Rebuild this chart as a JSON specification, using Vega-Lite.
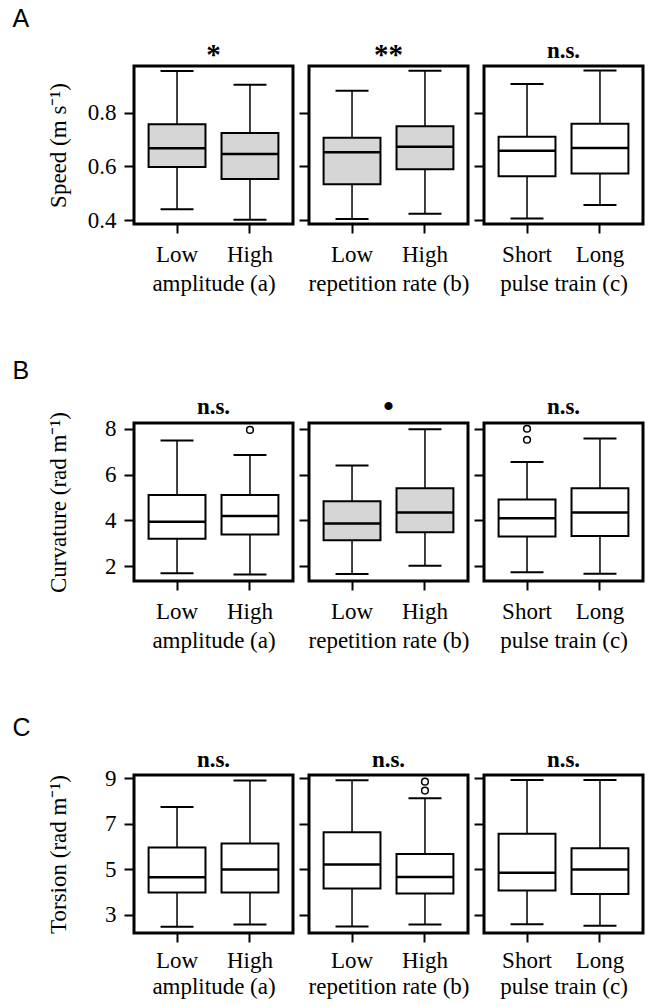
{
  "$schema": "https://vega.github.io/schema/vega-lite/v6.json",
  "background": "white",
  "padding": {"left": 12, "top": 6, "right": 4, "bottom": 2},
  "data": {"values": [
    {"row": "A", "panel": 1, "level": "Low", "kind": "box", "lo": 0.441, "q1": 0.598, "med": 0.667, "q3": 0.757, "hi": 0.954, "shaded": "yes"},
    {"row": "A", "panel": 1, "level": "High", "kind": "box", "lo": 0.402, "q1": 0.553, "med": 0.646, "q3": 0.724, "hi": 0.903, "shaded": "yes"},
    {"row": "A", "panel": 2, "level": "Low", "kind": "box", "lo": 0.405, "q1": 0.534, "med": 0.653, "q3": 0.706, "hi": 0.881, "shaded": "yes"},
    {"row": "A", "panel": 2, "level": "High", "kind": "box", "lo": 0.424, "q1": 0.589, "med": 0.673, "q3": 0.749, "hi": 0.955, "shaded": "yes"},
    {"row": "A", "panel": 3, "level": "Short", "kind": "box", "lo": 0.406, "q1": 0.563, "med": 0.658, "q3": 0.710, "hi": 0.906, "shaded": "no"},
    {"row": "A", "panel": 3, "level": "Long", "kind": "box", "lo": 0.457, "q1": 0.574, "med": 0.668, "q3": 0.758, "hi": 0.956, "shaded": "no"},
    {"row": "B", "panel": 1, "level": "Low", "kind": "box", "lo": 1.70, "q1": 3.20, "med": 3.94, "q3": 5.11, "hi": 7.49, "shaded": "no"},
    {"row": "B", "panel": 1, "level": "High", "kind": "box", "lo": 1.64, "q1": 3.39, "med": 4.19, "q3": 5.11, "hi": 6.85, "shaded": "no"},
    {"row": "B", "panel": 1, "level": "High", "kind": "out", "value": 7.95},
    {"row": "B", "panel": 2, "level": "Low", "kind": "box", "lo": 1.67, "q1": 3.14, "med": 3.87, "q3": 4.84, "hi": 6.40, "shaded": "yes"},
    {"row": "B", "panel": 2, "level": "High", "kind": "box", "lo": 2.03, "q1": 3.49, "med": 4.35, "q3": 5.40, "hi": 7.98, "shaded": "yes"},
    {"row": "B", "panel": 3, "level": "Short", "kind": "box", "lo": 1.74, "q1": 3.30, "med": 4.10, "q3": 4.91, "hi": 6.55, "shaded": "no"},
    {"row": "B", "panel": 3, "level": "Short", "kind": "out", "value": 8.0},
    {"row": "B", "panel": 3, "level": "Short", "kind": "out", "value": 7.52},
    {"row": "B", "panel": 3, "level": "Long", "kind": "box", "lo": 1.68, "q1": 3.32, "med": 4.35, "q3": 5.40, "hi": 7.57, "shaded": "no"},
    {"row": "C", "panel": 1, "level": "Low", "kind": "box", "lo": 2.46, "q1": 3.97, "med": 4.64, "q3": 5.95, "hi": 7.74, "shaded": "no"},
    {"row": "C", "panel": 1, "level": "High", "kind": "box", "lo": 2.56, "q1": 3.97, "med": 4.99, "q3": 6.13, "hi": 8.90, "shaded": "no"},
    {"row": "C", "panel": 2, "level": "Low", "kind": "box", "lo": 2.48, "q1": 4.15, "med": 5.20, "q3": 6.63, "hi": 8.91, "shaded": "no"},
    {"row": "C", "panel": 2, "level": "High", "kind": "box", "lo": 2.56, "q1": 3.93, "med": 4.66, "q3": 5.67, "hi": 8.12, "shaded": "no"},
    {"row": "C", "panel": 2, "level": "High", "kind": "out", "value": 8.85},
    {"row": "C", "panel": 2, "level": "High", "kind": "out", "value": 8.46},
    {"row": "C", "panel": 3, "level": "Short", "kind": "box", "lo": 2.58, "q1": 4.06, "med": 4.84, "q3": 6.56, "hi": 8.93, "shaded": "no"},
    {"row": "C", "panel": 3, "level": "Long", "kind": "box", "lo": 2.51, "q1": 3.91, "med": 4.98, "q3": 5.92, "hi": 8.93, "shaded": "no"}
  ]},
  "spacing": 61,
  "vconcat": [
    {
      "title": {"text": "A", "anchor": "start", "font": "Liberation Sans", "fontSize": 25, "fontWeight": "normal", "dx": -33, "offset": 7},
      "bounds": "flush",
      "spacing": 16,
      "hconcat": [
        {
          "width": 159, "height": 158,
          "title": {"text": "*", "dy": 7, "fontSize": 29},
          "transform": [{"filter": "datum.row=='A' && datum.panel==1"}],
          "encoding": {"x": {"field": "level", "type": "nominal", "scale": {"domain": ["Low", "High"], "paddingInner": 0.22, "paddingOuter": 0.2}, "axis": {"title": "amplitude (a)"}}},
          "layer": [
            {"transform": [{"filter": "datum.kind=='box'"}], "mark": {"type": "rule", "color": "black", "strokeWidth": 1.5}, "encoding": {"y": {"field": "lo", "type": "quantitative", "scale": {"domain": [0.386, 0.973]}, "axis": {"values": [0.4, 0.5, 0.6, 0.7, 0.8, 0.9], "format": ".1f", "labelExpr": "indexof(['0.4','0.6','0.8'], datum.label) >= 0 ? datum.label : ''", "title": "Speed (m s⁻¹)", "titleX": -76, "titleBaseline": "middle"}}, "y2": {"field": "hi"}}},
            {"transform": [{"filter": "datum.kind=='box'"}], "mark": {"type": "tick", "color": "black", "opacity": 1, "size": 33, "thickness": 2}, "encoding": {"y": {"field": "lo", "type": "quantitative", "scale": {"domain": [0.386, 0.973]}}}},
            {"transform": [{"filter": "datum.kind=='box'"}], "mark": {"type": "tick", "color": "black", "opacity": 1, "size": 33, "thickness": 2}, "encoding": {"y": {"field": "hi", "type": "quantitative", "scale": {"domain": [0.386, 0.973]}}}},
            {"transform": [{"filter": "datum.kind=='box'"}], "mark": {"type": "bar", "stroke": "black", "strokeWidth": 2, "opacity": 1}, "encoding": {"y": {"field": "q1", "type": "quantitative", "scale": {"domain": [0.386, 0.973]}}, "y2": {"field": "q3"}, "fill": {"field": "shaded", "type": "nominal", "scale": {"domain": ["yes", "no"], "range": ["#d6d6d6", "#ffffff"]}, "legend": null}}},
            {"transform": [{"filter": "datum.kind=='box'"}], "mark": {"type": "tick", "color": "black", "opacity": 1, "size": 57, "thickness": 2.5}, "encoding": {"y": {"field": "med", "type": "quantitative", "scale": {"domain": [0.386, 0.973]}}}}
          ]
        },
        {
          "width": 159, "height": 158,
          "title": {"text": "**", "dy": 7, "fontSize": 29},
          "transform": [{"filter": "datum.row=='A' && datum.panel==2"}],
          "encoding": {"x": {"field": "level", "type": "nominal", "scale": {"domain": ["Low", "High"], "paddingInner": 0.22, "paddingOuter": 0.2}, "axis": {"title": "repetition rate (b)"}}},
          "layer": [
            {"transform": [{"filter": "datum.kind=='box'"}], "mark": {"type": "rule", "color": "black", "strokeWidth": 1.5}, "encoding": {"y": {"field": "lo", "type": "quantitative", "scale": {"domain": [0.386, 0.973]}, "axis": {"values": [0.4, 0.5, 0.6, 0.7, 0.8, 0.9], "labels": false, "title": null}}, "y2": {"field": "hi"}}},
            {"transform": [{"filter": "datum.kind=='box'"}], "mark": {"type": "tick", "color": "black", "opacity": 1, "size": 33, "thickness": 2}, "encoding": {"y": {"field": "lo", "type": "quantitative", "scale": {"domain": [0.386, 0.973]}}}},
            {"transform": [{"filter": "datum.kind=='box'"}], "mark": {"type": "tick", "color": "black", "opacity": 1, "size": 33, "thickness": 2}, "encoding": {"y": {"field": "hi", "type": "quantitative", "scale": {"domain": [0.386, 0.973]}}}},
            {"transform": [{"filter": "datum.kind=='box'"}], "mark": {"type": "bar", "stroke": "black", "strokeWidth": 2, "opacity": 1}, "encoding": {"y": {"field": "q1", "type": "quantitative", "scale": {"domain": [0.386, 0.973]}}, "y2": {"field": "q3"}, "fill": {"field": "shaded", "type": "nominal", "scale": {"domain": ["yes", "no"], "range": ["#d6d6d6", "#ffffff"]}, "legend": null}}},
            {"transform": [{"filter": "datum.kind=='box'"}], "mark": {"type": "tick", "color": "black", "opacity": 1, "size": 57, "thickness": 2.5}, "encoding": {"y": {"field": "med", "type": "quantitative", "scale": {"domain": [0.386, 0.973]}}}}
          ]
        },
        {
          "width": 159, "height": 158,
          "title": {"text": "n.s."},
          "transform": [{"filter": "datum.row=='A' && datum.panel==3"}],
          "encoding": {"x": {"field": "level", "type": "nominal", "scale": {"domain": ["Short", "Long"], "paddingInner": 0.22, "paddingOuter": 0.2}, "axis": {"title": "pulse train (c)"}}},
          "layer": [
            {"transform": [{"filter": "datum.kind=='box'"}], "mark": {"type": "rule", "color": "black", "strokeWidth": 1.5}, "encoding": {"y": {"field": "lo", "type": "quantitative", "scale": {"domain": [0.386, 0.973]}, "axis": {"values": [0.4, 0.5, 0.6, 0.7, 0.8, 0.9], "labels": false, "title": null}}, "y2": {"field": "hi"}}},
            {"transform": [{"filter": "datum.kind=='box'"}], "mark": {"type": "tick", "color": "black", "opacity": 1, "size": 33, "thickness": 2}, "encoding": {"y": {"field": "lo", "type": "quantitative", "scale": {"domain": [0.386, 0.973]}}}},
            {"transform": [{"filter": "datum.kind=='box'"}], "mark": {"type": "tick", "color": "black", "opacity": 1, "size": 33, "thickness": 2}, "encoding": {"y": {"field": "hi", "type": "quantitative", "scale": {"domain": [0.386, 0.973]}}}},
            {"transform": [{"filter": "datum.kind=='box'"}], "mark": {"type": "bar", "stroke": "black", "strokeWidth": 2, "opacity": 1}, "encoding": {"y": {"field": "q1", "type": "quantitative", "scale": {"domain": [0.386, 0.973]}}, "y2": {"field": "q3"}, "fill": {"field": "shaded", "type": "nominal", "scale": {"domain": ["yes", "no"], "range": ["#d6d6d6", "#ffffff"]}, "legend": null}}},
            {"transform": [{"filter": "datum.kind=='box'"}], "mark": {"type": "tick", "color": "black", "opacity": 1, "size": 57, "thickness": 2.5}, "encoding": {"y": {"field": "med", "type": "quantitative", "scale": {"domain": [0.386, 0.973]}}}}
          ]
        }
      ]
    },
    {
      "title": {"text": "B", "anchor": "start", "font": "Liberation Sans", "fontSize": 25, "fontWeight": "normal", "dx": -33, "offset": 7},
      "bounds": "flush",
      "spacing": 16,
      "hconcat": [
        {
          "width": 159, "height": 158,
          "title": {"text": "n.s.", "dy": 10},
          "transform": [{"filter": "datum.row=='B' && datum.panel==1"}],
          "encoding": {"x": {"field": "level", "type": "nominal", "scale": {"domain": ["Low", "High"], "paddingInner": 0.22, "paddingOuter": 0.2}, "axis": {"title": "amplitude (a)"}}},
          "layer": [
            {"transform": [{"filter": "datum.kind=='box'"}], "mark": {"type": "rule", "color": "black", "strokeWidth": 1.5}, "encoding": {"y": {"field": "lo", "type": "quantitative", "scale": {"domain": [1.36, 8.25]}, "axis": {"values": [2, 3, 4, 5, 6, 7, 8], "labelExpr": "datum.value % 2 == 0 ? datum.label : ''", "title": "Curvature (rad m⁻¹)", "titleX": -76, "titleBaseline": "middle"}}, "y2": {"field": "hi"}}},
            {"transform": [{"filter": "datum.kind=='box'"}], "mark": {"type": "tick", "color": "black", "opacity": 1, "size": 33, "thickness": 2}, "encoding": {"y": {"field": "lo", "type": "quantitative", "scale": {"domain": [1.36, 8.25]}}}},
            {"transform": [{"filter": "datum.kind=='box'"}], "mark": {"type": "tick", "color": "black", "opacity": 1, "size": 33, "thickness": 2}, "encoding": {"y": {"field": "hi", "type": "quantitative", "scale": {"domain": [1.36, 8.25]}}}},
            {"transform": [{"filter": "datum.kind=='box'"}], "mark": {"type": "bar", "stroke": "black", "strokeWidth": 2, "opacity": 1}, "encoding": {"y": {"field": "q1", "type": "quantitative", "scale": {"domain": [1.36, 8.25]}}, "y2": {"field": "q3"}, "fill": {"field": "shaded", "type": "nominal", "scale": {"domain": ["yes", "no"], "range": ["#d6d6d6", "#ffffff"]}, "legend": null}}},
            {"transform": [{"filter": "datum.kind=='box'"}], "mark": {"type": "tick", "color": "black", "opacity": 1, "size": 57, "thickness": 2.5}, "encoding": {"y": {"field": "med", "type": "quantitative", "scale": {"domain": [1.36, 8.25]}}}},
            {"transform": [{"filter": "datum.kind=='out'"}], "mark": {"type": "point", "shape": "circle", "filled": false, "color": "black", "strokeWidth": 1.5, "size": 45, "opacity": 1}, "encoding": {"y": {"field": "value", "type": "quantitative", "scale": {"domain": [1.36, 8.25]}}}}
          ]
        },
        {
          "width": 159, "height": 158,
          "title": {"text": "•", "fontSize": 30, "dy": 2},
          "transform": [{"filter": "datum.row=='B' && datum.panel==2"}],
          "encoding": {"x": {"field": "level", "type": "nominal", "scale": {"domain": ["Low", "High"], "paddingInner": 0.22, "paddingOuter": 0.2}, "axis": {"title": "repetition rate (b)"}}},
          "layer": [
            {"transform": [{"filter": "datum.kind=='box'"}], "mark": {"type": "rule", "color": "black", "strokeWidth": 1.5}, "encoding": {"y": {"field": "lo", "type": "quantitative", "scale": {"domain": [1.36, 8.25]}, "axis": {"values": [2, 3, 4, 5, 6, 7, 8], "labels": false, "title": null}}, "y2": {"field": "hi"}}},
            {"transform": [{"filter": "datum.kind=='box'"}], "mark": {"type": "tick", "color": "black", "opacity": 1, "size": 33, "thickness": 2}, "encoding": {"y": {"field": "lo", "type": "quantitative", "scale": {"domain": [1.36, 8.25]}}}},
            {"transform": [{"filter": "datum.kind=='box'"}], "mark": {"type": "tick", "color": "black", "opacity": 1, "size": 33, "thickness": 2}, "encoding": {"y": {"field": "hi", "type": "quantitative", "scale": {"domain": [1.36, 8.25]}}}},
            {"transform": [{"filter": "datum.kind=='box'"}], "mark": {"type": "bar", "stroke": "black", "strokeWidth": 2, "opacity": 1}, "encoding": {"y": {"field": "q1", "type": "quantitative", "scale": {"domain": [1.36, 8.25]}}, "y2": {"field": "q3"}, "fill": {"field": "shaded", "type": "nominal", "scale": {"domain": ["yes", "no"], "range": ["#d6d6d6", "#ffffff"]}, "legend": null}}},
            {"transform": [{"filter": "datum.kind=='box'"}], "mark": {"type": "tick", "color": "black", "opacity": 1, "size": 57, "thickness": 2.5}, "encoding": {"y": {"field": "med", "type": "quantitative", "scale": {"domain": [1.36, 8.25]}}}}
          ]
        },
        {
          "width": 159, "height": 158,
          "title": {"text": "n.s."},
          "transform": [{"filter": "datum.row=='B' && datum.panel==3"}],
          "encoding": {"x": {"field": "level", "type": "nominal", "scale": {"domain": ["Short", "Long"], "paddingInner": 0.22, "paddingOuter": 0.2}, "axis": {"title": "pulse train (c)"}}},
          "layer": [
            {"transform": [{"filter": "datum.kind=='box'"}], "mark": {"type": "rule", "color": "black", "strokeWidth": 1.5}, "encoding": {"y": {"field": "lo", "type": "quantitative", "scale": {"domain": [1.36, 8.25]}, "axis": {"values": [2, 3, 4, 5, 6, 7, 8], "labels": false, "title": null}}, "y2": {"field": "hi"}}},
            {"transform": [{"filter": "datum.kind=='box'"}], "mark": {"type": "tick", "color": "black", "opacity": 1, "size": 33, "thickness": 2}, "encoding": {"y": {"field": "lo", "type": "quantitative", "scale": {"domain": [1.36, 8.25]}}}},
            {"transform": [{"filter": "datum.kind=='box'"}], "mark": {"type": "tick", "color": "black", "opacity": 1, "size": 33, "thickness": 2}, "encoding": {"y": {"field": "hi", "type": "quantitative", "scale": {"domain": [1.36, 8.25]}}}},
            {"transform": [{"filter": "datum.kind=='box'"}], "mark": {"type": "bar", "stroke": "black", "strokeWidth": 2, "opacity": 1}, "encoding": {"y": {"field": "q1", "type": "quantitative", "scale": {"domain": [1.36, 8.25]}}, "y2": {"field": "q3"}, "fill": {"field": "shaded", "type": "nominal", "scale": {"domain": ["yes", "no"], "range": ["#d6d6d6", "#ffffff"]}, "legend": null}}},
            {"transform": [{"filter": "datum.kind=='box'"}], "mark": {"type": "tick", "color": "black", "opacity": 1, "size": 57, "thickness": 2.5}, "encoding": {"y": {"field": "med", "type": "quantitative", "scale": {"domain": [1.36, 8.25]}}}},
            {"transform": [{"filter": "datum.kind=='out'"}], "mark": {"type": "point", "shape": "circle", "filled": false, "color": "black", "strokeWidth": 1.5, "size": 45, "opacity": 1}, "encoding": {"y": {"field": "value", "type": "quantitative", "scale": {"domain": [1.36, 8.25]}}}}
          ]
        }
      ]
    },
    {
      "title": {"text": "C", "anchor": "start", "font": "Liberation Sans", "fontSize": 25, "fontWeight": "normal", "dx": -33, "offset": 7},
      "bounds": "flush",
      "spacing": 16,
      "hconcat": [
        {
          "width": 159, "height": 158,
          "title": {"text": "n.s.", "dy": 8},
          "transform": [{"filter": "datum.row=='C' && datum.panel==1"}],
          "encoding": {"x": {"field": "level", "type": "nominal", "scale": {"domain": ["Low", "High"], "paddingInner": 0.22, "paddingOuter": 0.2}, "axis": {"title": "amplitude (a)", "labelPadding": 7, "titlePadding": 3}}},
          "layer": [
            {"transform": [{"filter": "datum.kind=='box'"}], "mark": {"type": "rule", "color": "black", "strokeWidth": 1.5}, "encoding": {"y": {"field": "lo", "type": "quantitative", "scale": {"domain": [2.19, 9.145]}, "axis": {"values": [3, 4, 5, 6, 7, 8, 9], "labelExpr": "datum.value % 2 == 1 ? datum.label : ''", "title": "Torsion (rad m⁻¹)", "titleX": -76, "titleBaseline": "middle"}}, "y2": {"field": "hi"}}},
            {"transform": [{"filter": "datum.kind=='box'"}], "mark": {"type": "tick", "color": "black", "opacity": 1, "size": 33, "thickness": 2}, "encoding": {"y": {"field": "lo", "type": "quantitative", "scale": {"domain": [2.19, 9.145]}}}},
            {"transform": [{"filter": "datum.kind=='box'"}], "mark": {"type": "tick", "color": "black", "opacity": 1, "size": 33, "thickness": 2}, "encoding": {"y": {"field": "hi", "type": "quantitative", "scale": {"domain": [2.19, 9.145]}}}},
            {"transform": [{"filter": "datum.kind=='box'"}], "mark": {"type": "bar", "stroke": "black", "strokeWidth": 2, "opacity": 1}, "encoding": {"y": {"field": "q1", "type": "quantitative", "scale": {"domain": [2.19, 9.145]}}, "y2": {"field": "q3"}, "fill": {"field": "shaded", "type": "nominal", "scale": {"domain": ["yes", "no"], "range": ["#d6d6d6", "#ffffff"]}, "legend": null}}},
            {"transform": [{"filter": "datum.kind=='box'"}], "mark": {"type": "tick", "color": "black", "opacity": 1, "size": 57, "thickness": 2.5}, "encoding": {"y": {"field": "med", "type": "quantitative", "scale": {"domain": [2.19, 9.145]}}}}
          ]
        },
        {
          "width": 159, "height": 158,
          "title": {"text": "n.s."},
          "transform": [{"filter": "datum.row=='C' && datum.panel==2"}],
          "encoding": {"x": {"field": "level", "type": "nominal", "scale": {"domain": ["Low", "High"], "paddingInner": 0.22, "paddingOuter": 0.2}, "axis": {"title": "repetition rate (b)", "labelPadding": 7, "titlePadding": 3}}},
          "layer": [
            {"transform": [{"filter": "datum.kind=='box'"}], "mark": {"type": "rule", "color": "black", "strokeWidth": 1.5}, "encoding": {"y": {"field": "lo", "type": "quantitative", "scale": {"domain": [2.19, 9.145]}, "axis": {"values": [3, 4, 5, 6, 7, 8, 9], "labels": false, "title": null}}, "y2": {"field": "hi"}}},
            {"transform": [{"filter": "datum.kind=='box'"}], "mark": {"type": "tick", "color": "black", "opacity": 1, "size": 33, "thickness": 2}, "encoding": {"y": {"field": "lo", "type": "quantitative", "scale": {"domain": [2.19, 9.145]}}}},
            {"transform": [{"filter": "datum.kind=='box'"}], "mark": {"type": "tick", "color": "black", "opacity": 1, "size": 33, "thickness": 2}, "encoding": {"y": {"field": "hi", "type": "quantitative", "scale": {"domain": [2.19, 9.145]}}}},
            {"transform": [{"filter": "datum.kind=='box'"}], "mark": {"type": "bar", "stroke": "black", "strokeWidth": 2, "opacity": 1}, "encoding": {"y": {"field": "q1", "type": "quantitative", "scale": {"domain": [2.19, 9.145]}}, "y2": {"field": "q3"}, "fill": {"field": "shaded", "type": "nominal", "scale": {"domain": ["yes", "no"], "range": ["#d6d6d6", "#ffffff"]}, "legend": null}}},
            {"transform": [{"filter": "datum.kind=='box'"}], "mark": {"type": "tick", "color": "black", "opacity": 1, "size": 57, "thickness": 2.5}, "encoding": {"y": {"field": "med", "type": "quantitative", "scale": {"domain": [2.19, 9.145]}}}},
            {"transform": [{"filter": "datum.kind=='out'"}], "mark": {"type": "point", "shape": "circle", "filled": false, "color": "black", "strokeWidth": 1.5, "size": 45, "opacity": 1}, "encoding": {"y": {"field": "value", "type": "quantitative", "scale": {"domain": [2.19, 9.145]}}}}
          ]
        },
        {
          "width": 159, "height": 158,
          "title": {"text": "n.s."},
          "transform": [{"filter": "datum.row=='C' && datum.panel==3"}],
          "encoding": {"x": {"field": "level", "type": "nominal", "scale": {"domain": ["Short", "Long"], "paddingInner": 0.22, "paddingOuter": 0.2}, "axis": {"title": "pulse train (c)", "labelPadding": 7, "titlePadding": 3}}},
          "layer": [
            {"transform": [{"filter": "datum.kind=='box'"}], "mark": {"type": "rule", "color": "black", "strokeWidth": 1.5}, "encoding": {"y": {"field": "lo", "type": "quantitative", "scale": {"domain": [2.19, 9.145]}, "axis": {"values": [3, 4, 5, 6, 7, 8, 9], "labels": false, "title": null}}, "y2": {"field": "hi"}}},
            {"transform": [{"filter": "datum.kind=='box'"}], "mark": {"type": "tick", "color": "black", "opacity": 1, "size": 33, "thickness": 2}, "encoding": {"y": {"field": "lo", "type": "quantitative", "scale": {"domain": [2.19, 9.145]}}}},
            {"transform": [{"filter": "datum.kind=='box'"}], "mark": {"type": "tick", "color": "black", "opacity": 1, "size": 33, "thickness": 2}, "encoding": {"y": {"field": "hi", "type": "quantitative", "scale": {"domain": [2.19, 9.145]}}}},
            {"transform": [{"filter": "datum.kind=='box'"}], "mark": {"type": "bar", "stroke": "black", "strokeWidth": 2, "opacity": 1}, "encoding": {"y": {"field": "q1", "type": "quantitative", "scale": {"domain": [2.19, 9.145]}}, "y2": {"field": "q3"}, "fill": {"field": "shaded", "type": "nominal", "scale": {"domain": ["yes", "no"], "range": ["#d6d6d6", "#ffffff"]}, "legend": null}}},
            {"transform": [{"filter": "datum.kind=='box'"}], "mark": {"type": "tick", "color": "black", "opacity": 1, "size": 57, "thickness": 2.5}, "encoding": {"y": {"field": "med", "type": "quantitative", "scale": {"domain": [2.19, 9.145]}}}}
          ]
        }
      ]
    }
  ],
  "config": {
    "view": {"stroke": "black", "strokeWidth": 3},
    "font": "Liberation Serif",
    "style": {"guide-label": {"font": "Liberation Serif", "fontSize": 23, "fill": "black"}, "guide-title": {"font": "Liberation Serif", "fontSize": 23, "fontWeight": "normal", "fill": "black"}},
    "axis": {"domain": false, "grid": false, "tickColor": "black", "tickWidth": 2, "labelFont": "Liberation Serif", "labelFontSize": 23, "labelColor": "black", "titleFont": "Liberation Serif", "titleFontSize": 23, "titleFontWeight": "normal", "titleColor": "black"},
    "axisX": {"tickSize": 9, "labelPadding": 10, "titlePadding": 6, "labelAngle": 0, "bandPosition": 0.5, "labelFont": "Liberation Serif", "titleFont": "Liberation Serif"},
    "axisY": {"tickSize": 10, "labelPadding": 8, "labelFont": "Liberation Serif", "titleFont": "Liberation Serif"},
    "title": {"font": "Liberation Serif", "fontSize": 23, "fontWeight": "bold", "color": "black", "offset": 3}
  }
}
